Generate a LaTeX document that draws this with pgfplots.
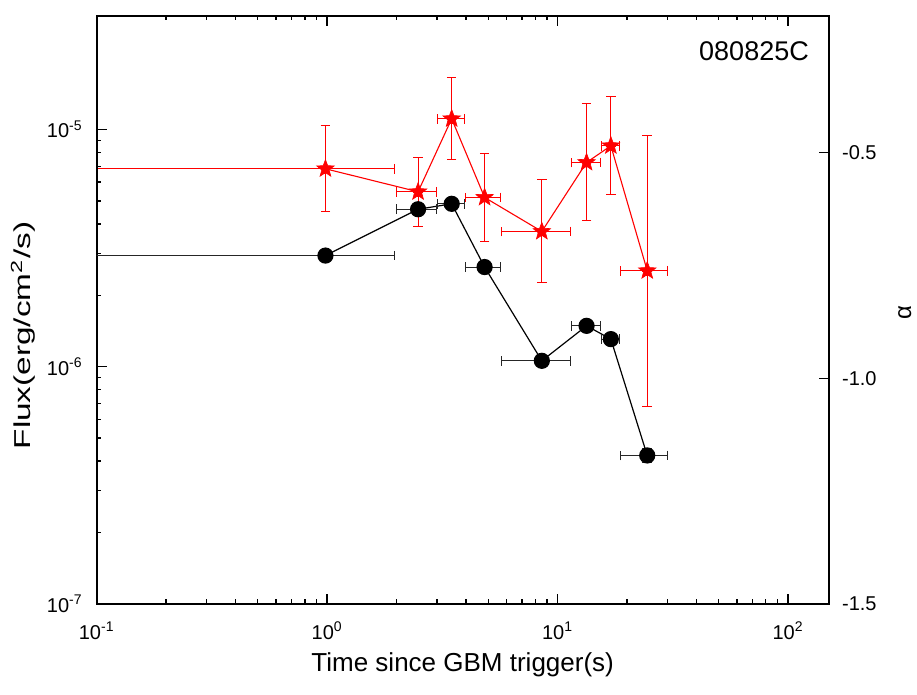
\documentclass[border=0pt]{standalone}
\usepackage{pgfplots}
\pgfplotsset{compat=1.18}
\usepackage{pgfplotstable}
\usetikzlibrary{arrows.meta}
\usepackage{fontspec}
\setmainfont{Liberation Sans}

\pgfdeclareplotmark{fstar}{%
 \pgfpathmoveto{\pgfpointpolar{90}{\pgfplotmarksize}}%
 \pgfpathlineto{\pgfpointpolar{126}{0.42\pgfplotmarksize}}%
 \pgfpathlineto{\pgfpointpolar{162}{\pgfplotmarksize}}%
 \pgfpathlineto{\pgfpointpolar{198}{0.42\pgfplotmarksize}}%
 \pgfpathlineto{\pgfpointpolar{234}{\pgfplotmarksize}}%
 \pgfpathlineto{\pgfpointpolar{270}{0.42\pgfplotmarksize}}%
 \pgfpathlineto{\pgfpointpolar{306}{\pgfplotmarksize}}%
 \pgfpathlineto{\pgfpointpolar{342}{0.42\pgfplotmarksize}}%
 \pgfpathlineto{\pgfpointpolar{18}{\pgfplotmarksize}}%
 \pgfpathlineto{\pgfpointpolar{54}{0.42\pgfplotmarksize}}%
 \pgfpathclose
 \pgfusepathqfillstroke}

\pgfplotstableread{
t f txp txm fp fm
0.983 2.94e-6 0.982 0.933 0 0
2.48 4.61e-6 0.52 0.50 0 0
3.47 4.86e-6 0.49 0.47 0 0
4.82 2.63e-6 0.86 0.86 0 0
8.54 1.058e-6 2.84 2.88 0 0
13.35 1.486e-6 2.01 1.90 0 0
17.02 1.306e-6 1.60 1.66 0 0
24.48 4.22e-7 5.72 5.86 3e-8 3e-8
}\fluxdata

\pgfplotstableread{
t a txp txm ap am
0.983 -0.5355 0.982 0.933 0.0976 0.0960
2.48 -0.5865 0.52 0.50 0.0770 0.0791
3.47 -0.4246 0.49 0.47 0.0916 0.0924
4.82 -0.5990 0.86 0.86 0.0983 0.0990
8.54 -0.6745 2.84 2.88 0.1153 0.1153
13.35 -0.5215 2.01 1.90 0.1315 0.1308
17.02 -0.4845 1.60 1.66 0.1093 0.1102
24.48 -0.7616 5.72 5.86 0.3016 0.3023
}\alphadata

\begin{document}
\begin{tikzpicture}
% alpha axis (right)
\begin{axis}[
  scale only axis, width=366pt, height=294pt,
  xmode=log, xmin=0.1, xmax=150,
  tick align=inside,
  major tick length=5pt, minor tick length=2.2pt,
  tick style={black, line width=0.7pt},
  axis line style={line width=1pt},
  tick label style={font=\fontsize{10}{12}\selectfont, inner sep=0pt},
  name=aax,
  axis x line=none,
  axis y line*=right,
  ymin=-1.5, ymax=-0.196,
  ytick={-1.5,-1.0,-0.5},
  yticklabels={-1.5,-1.0,-0.5},
  yticklabel style={anchor=west, xshift=6.5pt},
  ylabel={α},
  ylabel style={font=\fontsize{12}{14}\selectfont, at={(axis description cs:1.1038,0.495)}, anchor=center},
]
\addplot[red, line width=0.55pt, mark=fstar, mark size=4.6pt,
  mark options={solid, fill=red, draw=red, line width=0.3pt},
  error bars/.cd, x dir=both, x explicit, y dir=both, y explicit,
  error mark=none,
  error bar style={red, line width=0.5pt, {Bar[width=4.8pt]}-{Bar[width=4.8pt]}}]
  table[x=t, y=a, x error plus=txp, x error minus=txm, y error plus=ap, y error minus=am] {\alphadata};
\end{axis}
% flux axis (left)
\begin{axis}[
  scale only axis, width=366pt, height=294pt,
  xmode=log, xmin=0.1, xmax=150,
  tick align=inside,
  major tick length=5pt, minor tick length=2.2pt,
  tick style={black, line width=0.7pt},
  axis line style={line width=1pt},
  tick label style={font=\fontsize{10}{12}\selectfont, inner sep=0pt},
  name=fax,
  ymode=log, ymin=1e-7, ymax=3.02e-5,
  xtick pos=both, ytick pos=left,
  xtick={0.1,1,10,100},
  xticklabels={10\textsuperscript{-1},10\textsuperscript{0},10\textsuperscript{1},10\textsuperscript{2}},
  ytick={1e-7,1e-6,1e-5},
  yticklabels={10\textsuperscript{-7},10\textsuperscript{-6},10\textsuperscript{-5}},
  xticklabel style={anchor=north, yshift=-9pt},
  yticklabel style={anchor=east, xshift=-6.85pt},
  xlabel={Time since GBM trigger(s)},
  xlabel style={font=\fontsize{13}{15}\selectfont, at={(axis description cs:0.5,-0.1152)}, anchor=base},
  ylabel={Flux(erg/cm\textsuperscript{2}/s)},
  ylabel style={font=\fontsize{11.5}{13}\selectfont, at={(axis description cs:-0.1003,0.456)}, anchor=center, xscale=1.45},
]
\addplot[black, line width=0.6pt, mark=*, mark size=3.75pt,
  mark options={solid, fill=black},
  error bars/.cd, x dir=both, x explicit, y dir=both, y explicit,
  error mark=none,
  error bar style={black!85, line width=0.5pt, {Bar[width=4.8pt]}-{Bar[width=4.8pt]}}]
  table[x=t, y=f, x error plus=txp, x error minus=txm, y error plus=fp, y error minus=fm] {\fluxdata};
\node[font=\fontsize{13.5}{15}\selectfont, anchor=base] at (axis description cs:0.898,0.924) {080825C};
\end{axis}
\pgfresetboundingbox
\path (fax.south west) ++(-48.35pt,-45.5pt) coordinate (bbA);
\path (fax.south west) ++(410.15pt,301.85pt) coordinate (bbB);
\path[use as bounding box] (bbA) rectangle (bbB);
\end{tikzpicture}
\end{document}
